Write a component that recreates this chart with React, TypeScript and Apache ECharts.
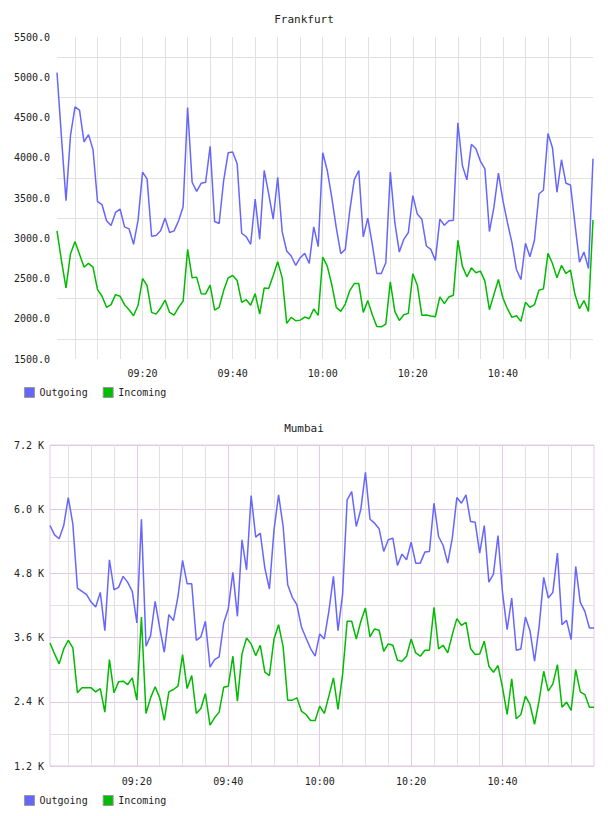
import React, { useEffect, useRef } from "react";
import * as echarts from "echarts";

// One sample per minute, 09:01 .. 11:00
const times: string[] = [];
for (let m = 9 * 60 + 1; m <= 11 * 60; m++) {
  const hh = String(Math.floor(m / 60)).padStart(2, "0");
  const mm = String(m % 60).padStart(2, "0");
  times.push(`${hh}:${mm}`);
}

const seriesNames = ["Outgoing", "Incoming"];

const frankfurtOutgoing = [
  5058, 4250, 3467, 4279, 4633, 4592, 4196, 4287, 4100, 3454,
  3417, 3217, 3158, 3321, 3363, 3142, 3117, 2925, 3225, 3821,
  3737, 3025, 3033, 3092, 3250, 3071, 3092, 3217, 3392, 4625,
  3696, 3583, 3683, 3696, 4142, 3208, 3183, 3717, 4062, 4071,
  3925, 3062, 3021, 2925, 3487, 2987, 3842, 3550, 3237, 3758,
  3079, 2842, 2779, 2662, 2758, 2812, 2687, 3142, 2896, 4062,
  3842, 3508, 3133, 2808, 2862, 3342, 3729, 3842, 3017, 3250,
  2925, 2562, 2562, 2696, 3821, 3196, 2829, 2987, 3071, 3529,
  3300, 3237, 2904, 2862, 2725, 3237, 3162, 3217, 3225, 4433,
  3904, 3725, 4167, 4112, 3958, 3862, 3083, 3383, 3808, 3467,
  3196, 2946, 2612, 2487, 2937, 2771, 2975, 3550, 3600, 4300,
  4125, 3571, 3975, 3683, 3662, 3175, 2704, 2829, 2625, 3987,
];

const frankfurtIncoming = [
  3092, 2720, 2383, 2808, 2958, 2800, 2642, 2687, 2642, 2362,
  2279, 2142, 2175, 2300, 2279, 2175, 2112, 2037, 2167, 2500,
  2412, 2079, 2058, 2133, 2233, 2079, 2046, 2142, 2217, 2862,
  2508, 2517, 2312, 2308, 2417, 2108, 2142, 2350, 2508, 2537,
  2475, 2204, 2237, 2167, 2312, 2058, 2383, 2375, 2537, 2708,
  2508, 1942, 2017, 1975, 1983, 2021, 2000, 2121, 2042, 2767,
  2654, 2425, 2142, 2092, 2183, 2350, 2437, 2437, 2079, 2225,
  2050, 1904, 1900, 1933, 2458, 2092, 1979, 2050, 2067, 2558,
  2417, 2042, 2046, 2033, 2025, 2271, 2187, 2271, 2292, 2975,
  2654, 2521, 2633, 2571, 2592, 2467, 2112, 2300, 2487, 2258,
  2125, 2017, 2037, 1967, 2204, 2142, 2175, 2354, 2371, 2812,
  2687, 2508, 2662, 2562, 2604, 2300, 2125, 2225, 2092, 3225,
];

const mumbaiOutgoing = [
  5695, 5521, 5447, 5695, 6218, 5720, 4526, 4464, 4402, 4265,
  4172, 4445, 3730, 5055, 4495, 4539, 4744, 4632, 4464, 3873,
  5813, 3438, 3637, 4278, 3780, 3326, 4029, 3917, 4371, 5042,
  4607, 4607, 3550, 3612, 3905, 3046, 3189, 3239, 3873, 4141,
  4819, 3998, 5428, 4868, 6255, 5478, 5552, 4899, 4508, 5614,
  6267, 5677, 4588, 4352, 4215, 3799, 3594, 3395, 3252, 3668,
  3575, 4091, 4744, 3730, 4402, 6174, 6329, 5677, 6000, 6690,
  5813, 5739, 5633, 5210, 5428, 5459, 4949, 5160, 5055, 5385,
  4992, 4992, 5198, 5210, 6112, 5490, 5322, 4992, 5459, 6218,
  6112, 6267, 5770, 5757, 5179, 5695, 4638, 4787, 5509, 4433,
  3749, 4340, 3363, 3388, 3985, 3730, 3158, 3811, 4725, 4340,
  4445, 5179, 3842, 3923, 3563, 4930, 4259, 4091, 3780, 3780,
];

const mumbaiIncoming = [
  3500, 3295, 3109, 3388, 3550, 3407, 2568, 2661, 2661, 2661,
  2586, 2648, 2207, 3189, 2568, 2773, 2785, 2723, 2847, 2431,
  3985, 2182, 2474, 2680, 2474, 2051, 2586, 2630, 2692, 3283,
  2648, 2891, 2182, 2275, 2555, 1964, 2101, 2207, 2673, 2692,
  3252, 2412, 3295, 3594, 3482, 3264, 3457, 2953, 2891, 3575,
  3842, 3426, 2431, 2431, 2474, 2226, 2163, 2051, 2051, 2319,
  2182, 2505, 2847, 2257, 2909, 3905, 3905, 3575, 3905, 4153,
  3612, 3761, 3737, 3345, 3482, 3457, 3177, 3158, 3252, 3575,
  3314, 3252, 3363, 3363, 4166, 3388, 3457, 3314, 3656, 3954,
  3830, 3886, 3395, 3283, 3295, 3532, 3065, 2953, 3078, 2661,
  2163, 2828, 2082, 2163, 2505, 2350, 1977, 2431, 2971, 2599,
  2735, 3096, 2300, 2394, 2238, 3003, 2586, 2536, 2300, 2300,
];

const FONT = "'DejaVu Sans Mono', monospace";
const TEXT = "#222";
const OUT_COLOR = "#6666ff";
const IN_COLOR = "#00bb00";
const GRID_GRAY = "#e2e2e2";
const GRID_PINK = "#e2cbe2";
const LAST_MINUTE = 11 * 60;

const minuteOf = (label: string) => {
  const [h, m] = label.split(":").map(Number);
  return h * 60 + m;
};

const labelText = { fontFamily: FONT, fontSize: 10, color: TEXT };

function lineSeries(name: string, data: number[], color: string, axis: number) {
  return {
    name,
    type: "line",
    xAxisIndex: axis,
    yAxisIndex: axis === 0 ? 0 : 1,
    data,
    symbol: "none",
    showSymbol: false,
    color,
    lineStyle: { color, width: 1.5 },
    z: 3,
  };
}

function legendAt(top: number) {
  return {
    data: seriesNames,
    left: 24,
    top,
    padding: 0,
    icon: "rect",
    itemWidth: 10,
    itemHeight: 10,
    itemGap: 15,
    selectedMode: false,
    itemStyle: { borderColor: "#999", borderWidth: 1 },
    textStyle: labelText,
  };
}

export default function App() {
  const ref = useRef<HTMLDivElement>(null);

  useEffect(() => {
    if (!ref.current) return;
    const chart = echarts.init(ref.current, undefined, { renderer: "svg" });

    const hiddenAxisParts = {
      axisLine: { show: false },
      axisTick: { show: false },
    };

    chart.setOption({
      animation: false,
      backgroundColor: "#fff",
      title: [
        {
          text: "Frankfurt",
          left: "center",
          top: 14,
          padding: 0,
          textStyle: { fontFamily: FONT, fontSize: 11, fontWeight: "normal", color: TEXT },
        },
        {
          text: "Mumbai",
          left: "center",
          top: 423,
          padding: 0,
          textStyle: { fontFamily: FONT, fontSize: 11, fontWeight: "normal", color: TEXT },
        },
      ],
      legend: [legendAt(387), legendAt(795)],
      grid: [
        { left: 57, top: 37, width: 536, height: 322 },
        {
          left: 50,
          top: 445,
          width: 544,
          height: 321,
          show: true,
          borderColor: GRID_PINK,
          borderWidth: 1,
        },
      ],
      xAxis: [
        {
          gridIndex: 0,
          type: "category",
          data: times,
          boundaryGap: false,
          ...hiddenAxisParts,
          axisLabel: {
            ...labelText,
            margin: 9,
            interval: (_i: number, v: string) => {
              const m = minuteOf(v);
              return m % 20 === 0 && m < LAST_MINUTE;
            },
          },
          splitLine: {
            show: true,
            interval: (_i: number, v: string) => {
              const m = minuteOf(v);
              return m % 5 === 0 && m < LAST_MINUTE;
            },
            lineStyle: { color: GRID_GRAY, width: 1 },
          },
        },
        {
          gridIndex: 1,
          type: "category",
          data: times,
          boundaryGap: false,
          ...hiddenAxisParts,
          axisLabel: {
            ...labelText,
            margin: 10,
            interval: (_i: number, v: string) => {
              const m = minuteOf(v);
              return m % 20 === 0 && m < LAST_MINUTE;
            },
          },
          splitLine: {
            show: true,
            interval: (_i: number, v: string) => {
              const m = minuteOf(v);
              return m % 5 === 0 && m % 20 !== 0;
            },
            lineStyle: { color: GRID_GRAY, width: 1 },
          },
        },
        {
          gridIndex: 1,
          type: "category",
          data: times,
          boundaryGap: false,
          position: "bottom",
          ...hiddenAxisParts,
          axisLabel: { show: false },
          splitLine: {
            show: true,
            interval: (_i: number, v: string) => {
              const m = minuteOf(v);
              return m % 20 === 0 && m < LAST_MINUTE;
            },
            lineStyle: { color: GRID_PINK, width: 1 },
          },
        },
      ],
      yAxis: [
        {
          gridIndex: 0,
          type: "value",
          min: 1500,
          max: 5500,
          interval: 500,
          ...hiddenAxisParts,
          axisLabel: {
            ...labelText,
            margin: 7,
            formatter: (v: number) => v.toFixed(1),
          },
          splitLine: { show: false },
          minorTick: { show: false, splitNumber: 2 },
          minorSplitLine: { show: true, lineStyle: { color: GRID_GRAY, width: 1 } },
        },
        {
          gridIndex: 1,
          type: "value",
          min: 1200,
          max: 7200,
          interval: 1200,
          ...hiddenAxisParts,
          axisLabel: {
            ...labelText,
            margin: 6,
            formatter: (v: number) => `${(v / 1000).toFixed(1)} K`,
          },
          splitLine: { show: true, lineStyle: { color: GRID_PINK, width: 1 } },
          minorTick: { show: false, splitNumber: 2 },
          minorSplitLine: { show: true, lineStyle: { color: GRID_GRAY, width: 1 } },
        },
      ],
      series: [
        lineSeries("Outgoing", frankfurtOutgoing, OUT_COLOR, 0),
        lineSeries("Incoming", frankfurtIncoming, IN_COLOR, 0),
        lineSeries("Outgoing", mumbaiOutgoing, OUT_COLOR, 1),
        lineSeries("Incoming", mumbaiIncoming, IN_COLOR, 1),
      ],
    });

    return () => chart.dispose();
  }, []);

  return (
    <div
      ref={ref}
      style={{ position: "absolute", left: 0, top: 0, width: 608, height: 816 }}
    />
  );
}
